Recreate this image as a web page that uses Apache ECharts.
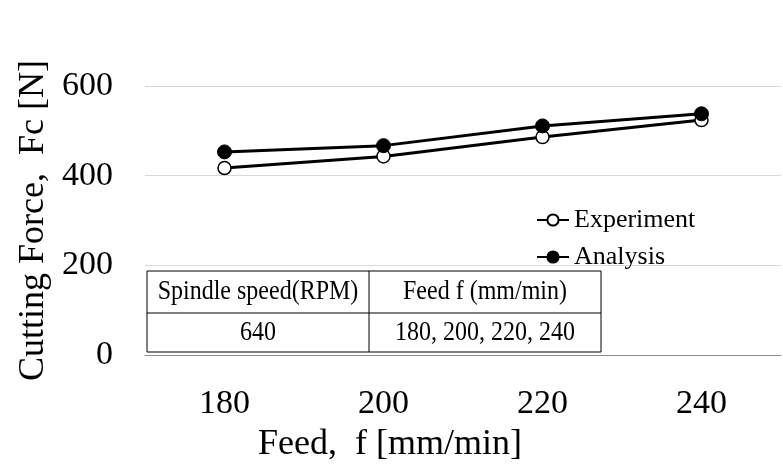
<!DOCTYPE html>
<html>
<head>
<meta charset="utf-8">
<script src="https://cdn.jsdelivr.net/npm/echarts@6/dist/echarts.min.js"></script>
<style>html,body{margin:0;padding:0;background:#fff;}#c{width:783px;height:475px;}</style>
</head>
<body>
<div id="c"></div>
<script>
var categories = ['180', '200', '220', '240'];
var experiment = [417, 443, 486, 524];
var analysis = [453, 467, 511, 538];
var seriesNames = ['Experiment', 'Analysis'];
var xName = 'Feed,  f [mm/min]';
var yName = 'Cutting Force,  Fc [N]';
var tableHeaders = ['Spindle speed(RPM)', 'Feed f (mm/min)'];
var tableValues = ['640', '180, 200, 220, 240'];

var FONT = '"Liberation Serif", "Times New Roman", serif';
var chart = echarts.init(document.getElementById('c'));

// table geometry
var tL = 147, tR = 601, tT = 271, tB = 352, tMid = 313, tCol = 369;
var tableGraphics = [
  {type: 'rect', shape: {x: tL, y: tT, width: tR - tL, height: tB - tT}, style: {fill: '#fff', stroke: '#000', lineWidth: 1}, z: 100},
  {type: 'line', shape: {x1: tL, y1: tMid, x2: tR, y2: tMid}, style: {stroke: '#000', lineWidth: 1}, z: 101},
  {type: 'line', shape: {x1: tCol, y1: tT, x2: tCol, y2: tB}, style: {stroke: '#000', lineWidth: 1}, z: 101}
];
var colCenters = [(tL + tCol) / 2, (tCol + tR) / 2];
var rowCenters = [(tT + tMid) / 2, (tMid + tB) / 2];
[tableHeaders, tableValues].forEach(function (row, ri) {
  row.forEach(function (txt, ci) {
    tableGraphics.push({
      type: 'text', x: colCenters[ci], y: rowCenters[ri], z: 102, scaleY: 1.12,
      style: {text: txt, font: '24px ' + FONT, fill: '#000', align: 'center', verticalAlign: 'middle'}
    });
  });
});

chart.setOption({
  backgroundColor: '#fff',
  animation: false,
  grid: {left: 145, right: 2, top: 86, bottom: 120, containLabel: false},
  legend: {
    data: seriesNames,
    orient: 'vertical',
    left: 531, top: 202,
    itemWidth: 32, itemHeight: 14, itemGap: 11,
    textStyle: {fontFamily: FONT, fontSize: 26, color: '#000'},
    z: 110
  },
  xAxis: {
    type: 'category',
    data: categories,
    boundaryGap: true,
    name: xName,
    nameLocation: 'middle',
    nameGap: 72,
    nameTextStyle: {fontFamily: FONT, fontSize: 36, color: '#000', padding: [0, 146, 0, 0]},
    axisLine: {lineStyle: {color: '#8c8c8c', width: 1}},
    axisTick: {show: false},
    axisLabel: {fontFamily: FONT, fontSize: 34, color: '#000', margin: 32}
  },
  yAxis: {
    type: 'value',
    min: 0, max: 600, interval: 200,
    name: yName,
    nameLocation: 'middle',
    nameGap: 90,
    nameTextStyle: {fontFamily: FONT, fontSize: 36, color: '#000'},
    axisLine: {show: false},
    axisTick: {show: false},
    splitLine: {lineStyle: {color: '#d9d9d9', width: 1}},
    axisLabel: {fontFamily: FONT, fontSize: 34, color: '#000', margin: 32}
  },
  series: [
    {
      name: seriesNames[0], type: 'line', data: experiment,
      symbol: 'circle', symbolSize: 13,
      lineStyle: {color: '#000', width: 3},
      itemStyle: {color: '#fff', borderColor: '#000', borderWidth: 1.5},
      z: 3
    },
    {
      name: seriesNames[1], type: 'line', data: analysis,
      symbol: 'circle', symbolSize: 14,
      lineStyle: {color: '#000', width: 3},
      itemStyle: {color: '#000', borderColor: '#000', borderWidth: 1},
      z: 4
    }
  ],
  graphic: tableGraphics
});
</script>
</body>
</html>
